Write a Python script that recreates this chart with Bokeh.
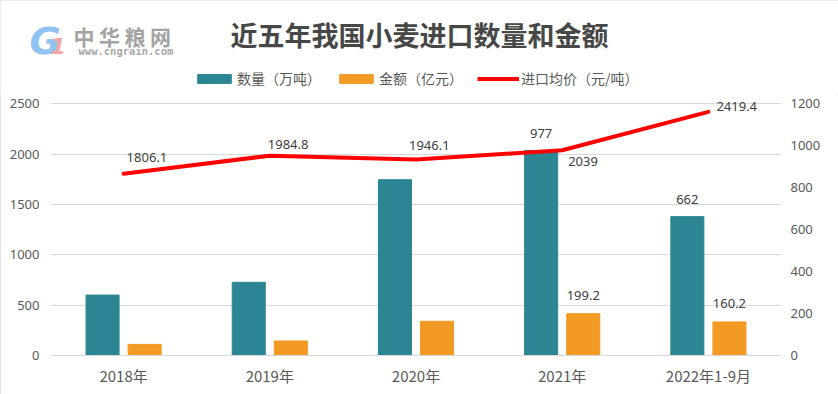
from bokeh.plotting import figure
from bokeh.layouts import column
from bokeh.models import (Range1d, FactorRange, LinearAxis, Legend, LegendItem,
                          ColumnDataSource, LabelSet, Label, FixedTicker)
from bokeh.core.properties import value
from bokeh.transform import dodge
from bokeh.embed import file_html
from bokeh.resources import INLINE

# ---------------- data ----------------
categories = ["2018年", "2019年", "2020年", "2021年", "2022年1-9月"]
quantity = [288, 349, 838, 977, 662]            # 数量（万吨）   right axis
amount = [53, 69.3, 163.1, 199.2, 160.2]        # 金额（亿元）   right axis
price = [1806.1, 1984.8, 1946.1, 2039, 2419.4]  # 进口均价（元/吨） left axis

quantity_labels = ["", "", "", "977", "662"]
amount_labels = ["", "", "", "199.2", "160.2"]
price_labels = ["1806.1", "1984.8", "1946.1", "2039", "2419.4"]

left_ticks = [0, 500, 1000, 1500, 2000, 2500]
right_ticks = [0, 200, 400, 600, 800, 1000, 1200]

# label offsets (style, px)
price_dx = [3, -2, -7, 6, 8]
price_dy = [16, 11, 14, -11, 5]

TEAL = "#2c8592"
ORANGE = "#f39a25"
RED = "#ff0000"
GRID = "#d9d9d9"
TXT = "#404040"
AX = "#595959"

W = 838
HEAD_H = 95
MAIN_H = 299
BOTTOM = 39
TOP_GAP = 8.3          # px between frame top and the 2500 gridline
frame_h = MAIN_H - BOTTOM
left_top = left_ticks[-1] * frame_h / (frame_h - TOP_GAP)
right_top = right_ticks[-1] * frame_h / (frame_h - TOP_GAP)

# ---------------- header: title, logo, legend ----------------
head = figure(width=W, height=HEAD_H, x_range=Range1d(0, W), y_range=Range1d(HEAD_H, 0),
              x_axis_location=None, y_axis_location=None, min_border=0, title=None,
              output_backend="svg", toolbar_location=None)
head.frame_align = False
head.grid.visible = False
head.outline_line_color = None
head.background_fill_color = "white"
head.border_fill_color = "white"

head.add_layout(Label(x=419, y=34, text="近五年我国小麦进口数量和金额",
                      text_font="Noto Sans CJK SC", text_font_size="27px", text_font_style="bold",
                      text_color="#474747", text_align="center", text_baseline="middle"))
logo_text = "中华粮网"
for i, ch in enumerate(logo_text):
    head.add_layout(Label(x=73 + 25.5 * i, y=35, text=ch, text_font="Noto Sans CJK SC",
                          text_font_size="21px", text_font_style="bold", text_color="#a3a3a3",
                          text_align="left", text_baseline="middle"))
head.add_layout(Label(x=78, y=50, text="www.cngrain.com", text_font="DejaVu Sans Mono",
                      text_font_size="10.5px", text_font_style="bold", text_color="#a8a8a8",
                      text_align="left", text_baseline="middle"))
head.add_layout(Label(x=29, y=40, text="G", text_font="DejaVu Sans", text_font_size="38px",
                      text_font_style="bold italic", text_color="#8fc3f2",
                      text_align="left", text_baseline="middle"))
head.add_layout(Label(x=50, y=45, text="1", text_font="DejaVu Sans", text_font_size="22px",
                      text_font_style="bold italic", text_color="#f4a7a7",
                      text_align="left", text_baseline="middle"))

nan = float("nan")
d_q = head.vbar(x=[nan], top=[nan], width=1, color=TEAL)
d_a = head.vbar(x=[nan], top=[nan], width=1, color=ORANGE)
d_p = head.line(x=[nan, nan], y=[nan, nan], line_color=RED, line_width=4)
legend = Legend(items=[LegendItem(label="数量（万吨）", renderers=[d_q]),
                       LegendItem(label="金额（亿元）", renderers=[d_a]),
                       LegendItem(label="进口均价（元/吨）", renderers=[d_p])],
                orientation="horizontal", location=(193, 7),
                label_text_font="Noto Sans CJK SC", label_text_font_size="14px",
                label_text_color=AX, glyph_width=42, glyph_height=11, label_height=11,
                label_standoff=2, spacing=14, padding=0, margin=0,
                border_line_color=None, background_fill_alpha=0)
head.add_layout(legend, "center")

# ---------------- main chart ----------------
src = ColumnDataSource(dict(cat=categories, quantity=quantity, amount=amount, price=price,
                            ql=quantity_labels, al=amount_labels, pl=price_labels,
                            pdx=price_dx, pdy=price_dy))

p = figure(width=W, height=MAIN_H, x_range=FactorRange(*categories, range_padding=0),
           y_range=Range1d(0, left_top), output_backend="svg", toolbar_location=None,
           min_border_left=50, min_border_right=57, min_border_top=0, min_border_bottom=BOTTOM,
           title=None)
p.frame_align = False
p.extra_y_ranges = {"right": Range1d(0, right_top)}
p.outline_line_color = None
p.background_fill_color = "white"
p.border_fill_color = "white"

r_q = p.vbar(x=dodge("cat", -0.144, range=p.x_range), top="quantity", width=0.226,
             source=src, color=TEAL, y_range_name="right")
r_a = p.vbar(x=dodge("cat", 0.144, range=p.x_range), top="amount", width=0.226,
             source=src, color=ORANGE, y_range_name="right")
r_p = p.line(x="cat", y="price", source=src, line_color=RED, line_width=4,
             line_join="round", line_cap="round")

p.yaxis.ticker = FixedTicker(ticks=left_ticks)
yr = LinearAxis(y_range_name="right", ticker=FixedTicker(ticks=right_ticks))
p.add_layout(yr, "right")
for ax in (p.yaxis[0], yr):
    ax.axis_line_color = None
    ax.major_tick_line_color = None
    ax.minor_tick_line_color = None
    ax.major_tick_out = 0
    ax.major_tick_in = 0
    ax.minor_tick_out = 0
    ax.major_label_text_font = "Noto Sans"
    ax.major_label_text_font_size = "13px"
    ax.major_label_text_color = AX
p.yaxis[0].major_label_standoff = 11
yr.major_label_standoff = 9

p.xaxis.axis_line_color = GRID
p.xaxis.major_tick_line_color = None
p.xaxis.minor_tick_line_color = None
p.xaxis.major_tick_out = 0
p.xaxis.major_tick_in = 0
p.xaxis.major_label_text_font = "Noto Sans CJK SC"
p.xaxis.major_label_text_font_size = "15px"
p.xaxis.major_label_text_color = AX
p.xaxis.major_label_standoff = 9

p.xgrid.grid_line_color = None
p.ygrid.grid_line_color = GRID
p.ygrid.grid_line_width = 1

lab_common = dict(text_font=value("Noto Sans"), text_font_size=value("13px"), text_color=TXT)
p.add_layout(LabelSet(x=dodge("cat", -0.144, range=p.x_range), y="quantity", text="ql",
                      y_range_name="right", source=src, text_align="center",
                      text_baseline="middle", y_offset=17, **lab_common))
p.add_layout(LabelSet(x=dodge("cat", 0.144, range=p.x_range), y="amount", text="al",
                      y_range_name="right", source=src, text_align="center",
                      text_baseline="middle", y_offset=18, **lab_common))
p.add_layout(LabelSet(x="cat", y="price", text="pl", source=src, text_align="left",
                      text_baseline="middle", x_offset="pdx", y_offset="pdy", **lab_common))

layout = column(head, p, spacing=0)
layout.styles = {"outline": "1px solid #d9d9d9", "outline-offset": "-1px"}
open("out.html", "w").write(file_html(layout, INLINE))
